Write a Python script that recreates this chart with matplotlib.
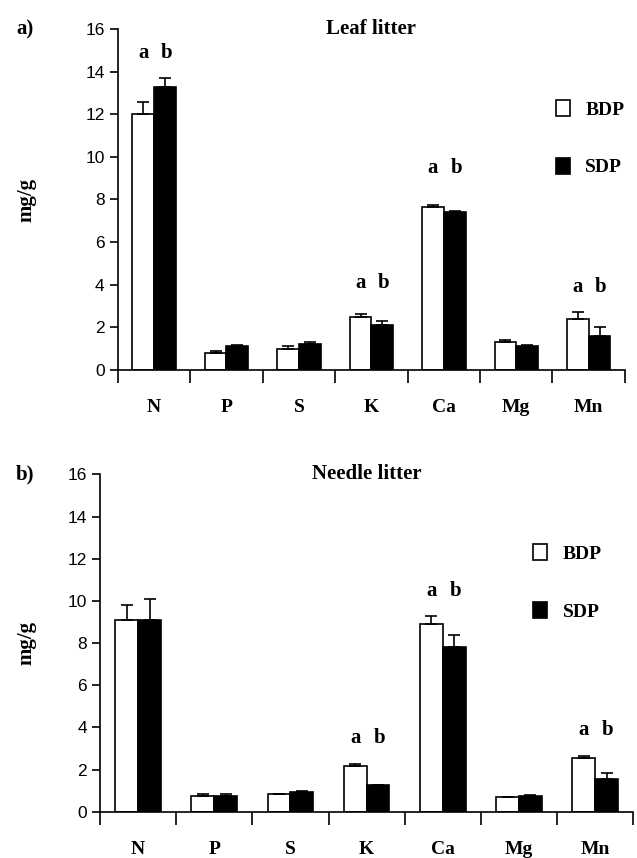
import numpy as np
import matplotlib
matplotlib.use('Agg')
import matplotlib.pyplot as plt
from matplotlib.patches import Patch

elements = ['N', 'P', 'S', 'K', 'Ca', 'Mg', 'Mn']

# leaf litter (mg/g)
leaf_bdp = [12.0, 0.8, 1.0, 2.5, 7.65, 1.3, 2.4]
leaf_bdp_err = [0.6, 0.1, 0.1, 0.1, 0.1, 0.08, 0.3]
leaf_sdp = [13.3, 1.1, 1.2, 2.1, 7.4, 1.1, 1.6]
leaf_sdp_err = [0.4, 0.08, 0.1, 0.2, 0.05, 0.05, 0.4]
leaf_sig = ['a b', '', '', 'a b', 'a b', '', 'a b']
leaf_sig_y = [14.4, 0, 0, 3.6, 9.0, 0, 3.4]

# needle litter (mg/g)
needle_bdp = [9.1, 0.75, 0.82, 2.15, 8.9, 0.7, 2.55]
needle_bdp_err = [0.7, 0.07, 0.0, 0.1, 0.4, 0.0, 0.07]
needle_sdp = [9.1, 0.75, 0.95, 1.25, 7.8, 0.75, 1.55]
needle_sdp_err = [1.0, 0.07, 0.05, 0.0, 0.6, 0.05, 0.3]
needle_sig = ['', '', '', 'a b', 'a b', '', 'a b']
needle_sig_y = [0, 0, 0, 3.0, 10.0, 0, 3.4]

serif = 'Liberation Serif'
sans = 'Liberation Sans'

fig = plt.figure(figsize=(6.37, 8.58), dpi=100)
ax1 = fig.add_axes([0.185, 0.569, 0.796, 0.397])
ax2 = fig.add_axes([0.157, 0.054, 0.837, 0.393])


def panel(ax, bdp, bdp_err, sdp, sdp_err, sig, sig_y, title, leg_xy, ylab_x):
    x = np.arange(len(elements))
    w = 0.3
    ax.bar(x - w / 2, bdp, w, color='white', edgecolor='black', linewidth=1.2,
           yerr=[np.zeros(len(bdp)), bdp_err], capsize=4,
           error_kw=dict(ecolor='black', elinewidth=1.2, capthick=1.2))
    ax.bar(x + w / 2, sdp, w, color='black', edgecolor='black', linewidth=1.2,
           yerr=[np.zeros(len(sdp)), sdp_err], capsize=4,
           error_kw=dict(ecolor='black', elinewidth=1.2, capthick=1.2))
    for i, (s, yy) in enumerate(zip(sig, sig_y)):
        if s:
            a, b = s.split()
            ax.text(i - 0.15, yy, a, ha='center', va='bottom', family=serif,
                    fontweight='bold', fontsize=15)
            ax.text(i + 0.17, yy, b, ha='center', va='bottom', family=serif,
                    fontweight='bold', fontsize=15)
    ax.set_xlim(-0.5, len(elements) - 0.5)
    ax.set_ylim(0, 16)
    ax.set_yticks(range(0, 17, 2))
    ax.set_xticks(x)
    ax.set_xticklabels(elements, family=serif, fontweight='bold', fontsize=14)
    ax.set_xticks(np.arange(-0.5, len(elements)), minor=True)
    ax.tick_params(axis='x', which='major', length=0, pad=21)
    ax.tick_params(axis='x', which='minor', length=9, width=1.2, direction='out')
    ax.tick_params(axis='y', length=6, width=1.2, direction='out', labelsize=12.5)
    for lab in ax.get_yticklabels():
        lab.set_family(sans)
    for sp in ['top', 'right']:
        ax.spines[sp].set_visible(False)
    ax.spines['left'].set_linewidth(1.2)
    ax.spines['bottom'].set_linewidth(1.2)
    ax.spines['bottom'].set_bounds(-0.5, len(elements) - 0.5)
    ax.text(0.5, 1.0, title, transform=ax.transAxes, ha='center', va='center',
            family=serif, fontweight='bold', fontsize=15)
    ax.set_ylabel('mg/g', family=serif, fontweight='bold', fontsize=15)
    ax.yaxis.set_label_coords(ylab_x, 0.5)
    handles = [Patch(facecolor='white', edgecolor='black', linewidth=1.2, label='BDP'),
               Patch(facecolor='black', edgecolor='black', linewidth=1.2, label='SDP')]
    ax.legend(handles=handles, loc='center left', bbox_to_anchor=leg_xy, frameon=False,
              handlelength=0.7, handleheight=0.9, handletextpad=0.8, labelspacing=2.0,
              prop=dict(family=serif, weight='bold', size=14))


panel(ax1, leaf_bdp, leaf_bdp_err, leaf_sdp, leaf_sdp_err, leaf_sig, leaf_sig_y,
      'Leaf litter', (0.83, 0.68), -0.16)
panel(ax2, needle_bdp, needle_bdp_err, needle_sdp, needle_sdp_err, needle_sig, needle_sig_y,
      'Needle litter', (0.78, 0.68), -0.12)

fig.text(0.025, 0.966, 'a)', family=serif, fontweight='bold', fontsize=15, va='center')
fig.text(0.025, 0.447, 'b)', family=serif, fontweight='bold', fontsize=15, va='center')

fig.savefig('out.png', dpi=100)
